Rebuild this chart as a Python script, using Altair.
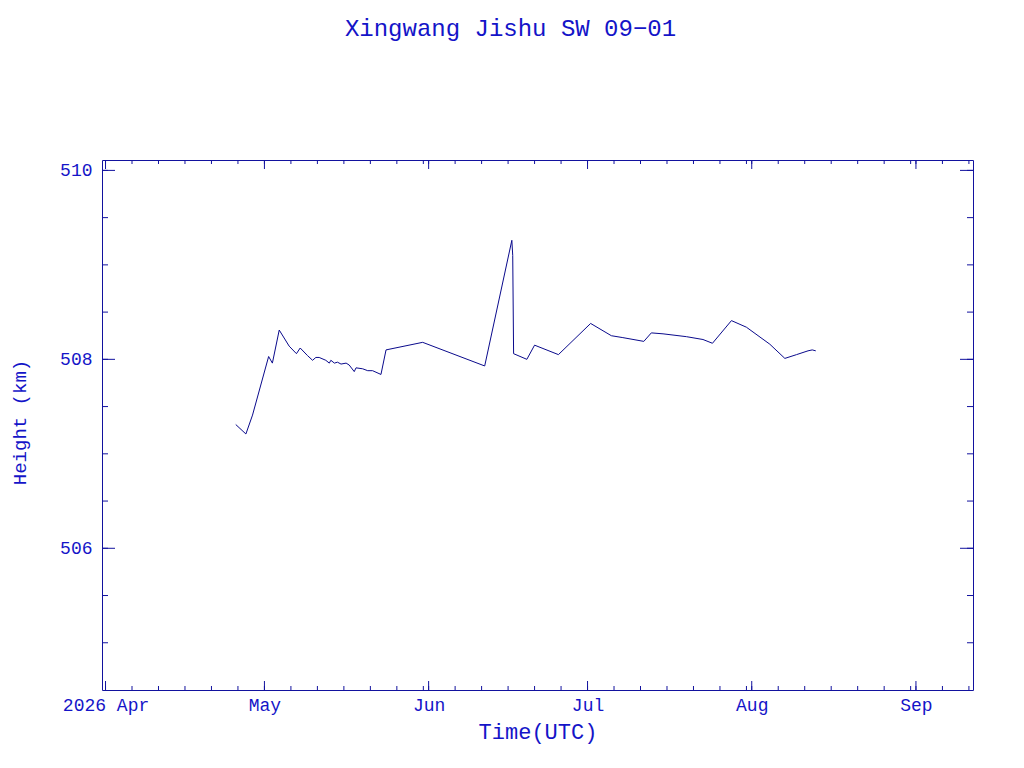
import altair as alt
import pandas as pd

# ---- series ----
times = [
    "2026-04-25T14:00:00Z", "2026-04-27T12:00:00Z", "2026-04-28T18:00:00Z",
    "2026-05-01T19:00:00Z", "2026-05-02T12:00:00Z", "2026-05-03T19:00:00Z",
    "2026-05-05T16:00:00Z", "2026-05-07T01:00:00Z", "2026-05-07T18:00:00Z",
    "2026-05-09T03:00:00Z", "2026-05-10T02:00:00Z", "2026-05-10T17:00:00Z",
    "2026-05-11T08:00:00Z", "2026-05-12T14:00:00Z", "2026-05-13T06:00:00Z",
    "2026-05-13T13:00:00Z", "2026-05-14T05:00:00Z", "2026-05-14T19:00:00Z",
    "2026-05-15T11:00:00Z", "2026-05-16T10:00:00Z", "2026-05-17T00:00:00Z",
    "2026-05-17T23:00:00Z", "2026-05-18T07:00:00Z", "2026-05-19T13:00:00Z",
    "2026-05-20T12:00:00Z", "2026-05-21T10:00:00Z", "2026-05-23T00:00:00Z",
    "2026-05-23T23:00:00Z", "2026-05-30T21:00:00Z", "2026-06-11T14:00:00Z",
    "2026-06-16T17:00:00Z", "2026-06-16T21:00:00Z", "2026-06-17T01:00:00Z",
    "2026-06-19T13:00:00Z", "2026-06-21T00:00:00Z", "2026-06-25T12:00:00Z",
    "2026-07-01T14:00:00Z", "2026-07-05T12:00:00Z", "2026-07-07T16:00:00Z",
    "2026-07-11T15:00:00Z", "2026-07-13T01:00:00Z", "2026-07-15T06:00:00Z",
    "2026-07-19T16:00:00Z", "2026-07-22T19:00:00Z", "2026-07-24T14:00:00Z",
    "2026-07-28T04:00:00Z", "2026-07-31T00:00:00Z", "2026-08-04T10:00:00Z",
    "2026-08-07T06:00:00Z", "2026-08-09T11:00:00Z", "2026-08-11T15:00:00Z",
    "2026-08-12T10:00:00Z", "2026-08-13T02:00:00Z",
]
heights = [
    507.31, 507.21, 507.41,
    508.03, 507.96, 508.31,
    508.14, 508.06, 508.12,
    508.04, 507.99, 508.02,
    508.02, 507.99, 507.96,
    507.99, 507.96, 507.97,
    507.95, 507.96, 507.94,
    507.87, 507.91, 507.90,
    507.88, 507.88, 507.84,
    508.10, 508.18, 507.93,
    509.26, 509.10, 508.06,
    508.00, 508.15, 508.05,
    508.38, 508.25, 508.23,
    508.19, 508.28, 508.27,
    508.24, 508.21, 508.17,
    508.41, 508.34, 508.16,
    508.01, 508.05, 508.09,
    508.10, 508.09,
]

# ---- axes / ticks ----
x_domain = ["2026-03-31T08:00:00Z", "2026-09-11T18:30:00Z"]
y_domain = [504.5, 510.11]
major_x = ["2026-04-01", "2026-05-01", "2026-06-01", "2026-07-01", "2026-08-01", "2026-09-01"]
minor_days = [1, 6, 11, 16, 21, 26, 31]
tick_months = [(2026, 4), (2026, 5), (2026, 6), (2026, 7), (2026, 8), (2026, 9)]
major_y = [506, 508, 510]
minor_y = [505.0, 505.5, 506.0, 506.5, 507.0, 507.5, 508.0, 508.5, 509.0, 509.5, 510.0]

TEXT = "#1414C8"
FRAME = "#12129E"
LINE = "#0A0A8C"
FONT = "Liberation Mono"
W, H = 871, 530


def ms(s):
    return int(pd.Timestamp(s, tz="UTC").value // 10**6)


d0, d1 = ms(x_domain[0]), ms(x_domain[1])
minor_x = []
for (yr, mo) in tick_months:
    for d in minor_days:
        try:
            ts = pd.Timestamp(year=yr, month=mo, day=d, tz="UTC")
        except ValueError:
            continue
        v = int(ts.value // 10**6)
        if d0 <= v <= d1:
            minor_x.append(ts.strftime("%Y-%m-%dT%H:%M:%SZ"))

major_x_ts = [ms(s) for s in major_x]

df = pd.DataFrame({"t": times, "h": heights})
df_xmaj = pd.DataFrame({"t": [s + "T00:00:00Z" for s in major_x]})
df_xmin = pd.DataFrame({"t": minor_x})
df_ymaj = pd.DataFrame({"h": major_y})
df_ymin = pd.DataFrame({"h": minor_y})

xscale = alt.Scale(type="utc", domain=[d0, d1])
yscale = alt.Scale(domain=y_domain, nice=False, zero=False)

xaxis = alt.Axis(
    values=major_x_ts,
    labelExpr="utcFormat(datum.value, '%m') == '04' ? utcFormat(datum.value, '%Y %b') : utcFormat(datum.value, '%b')",
    ticks=False, domain=False, grid=False,
    labelFont=FONT, labelFontSize=18, labelColor=TEXT, labelPadding=6,
    labelFlush=False, labelOverlap=False,
    title="Time(UTC)", titleFont=FONT, titleFontSize=22, titleFontWeight="normal",
    titleColor=TEXT, titleX=W / 2, titleY=48, titleBaseline="alphabetic", titleAlign="center",
)
yaxis = alt.Axis(
    values=major_y,
    ticks=False, domain=False, grid=False,
    labelFont=FONT, labelFontSize=18, labelColor=TEXT, labelPadding=10,
    labelFlush=False, labelOverlap=False,
    title="Height (km)", titleFont=FONT, titleFontSize=19, titleFontWeight="normal",
    titleColor=TEXT, titleX=-77, titleY=262, titleAlign="center", titleBaseline="alphabetic",
)

X = alt.X("t:T", scale=xscale, axis=xaxis)
Y = alt.Y("h:Q", scale=yscale, axis=yaxis)

line = alt.Chart(df).mark_line(color=LINE, strokeWidth=1, clip=True).encode(x=X, y=Y)


def xticks(data, length):
    bottom = alt.Chart(data).mark_rule(color=FRAME, strokeWidth=1).encode(
        x=X, y=alt.value(H), y2=alt.value(H - length),
    )
    top = alt.Chart(data).mark_rule(color=FRAME, strokeWidth=1).encode(
        x=X, y=alt.value(0), y2=alt.value(length),
    )
    return [bottom, top]


def yticks(data, length):
    left = alt.Chart(data).mark_rule(color=FRAME, strokeWidth=1).encode(
        y=Y, x=alt.value(0), x2=alt.value(length),
    )
    right = alt.Chart(data).mark_rule(color=FRAME, strokeWidth=1).encode(
        y=Y, x=alt.value(W), x2=alt.value(W - length),
    )
    return [left, right]


layers = [line] + xticks(df_xmin, 4) + xticks(df_xmaj, 9) + yticks(df_ymin, 6) + yticks(df_ymaj, 13)

chart = alt.layer(*layers).properties(
    width=W, height=H,
    background="white",
    title=alt.TitleParams(
        "Xingwang Jishu SW 09\u221201", font=FONT, fontSize=24, fontWeight="normal",
        color=TEXT, anchor="middle", dx=-27, baseline="alphabetic", offset=100,
    ),
    padding={"left": 94, "top": 152, "right": 30, "bottom": 60},
    autosize=alt.AutoSizeParams(type="none"),
).configure_view(stroke=FRAME, strokeWidth=1)

chart.save("out.html", embed_options={"renderer": "svg", "actions": False})
